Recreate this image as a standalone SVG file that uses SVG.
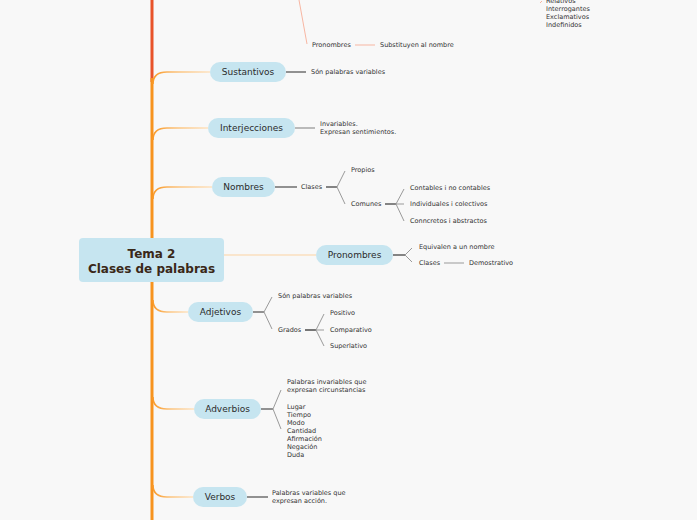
<svg xmlns="http://www.w3.org/2000/svg" width="697" height="520" viewBox="0 0 697 520">
<defs>
<linearGradient id="br" x1="0" y1="0" x2="1" y2="0">
<stop offset="0" stop-color="#f99a2a"/>
<stop offset="0.45" stop-color="#fcc47e"/>
<stop offset="1" stop-color="#fde3c2"/>
</linearGradient>
<style>
.node rect{fill:#c6e5f0;}
.nt{font-family:"DejaVu Sans",Verdana,sans-serif;font-size:9px;fill:#2b2b2b;text-anchor:middle;}
.ct{font-family:"DejaVu Sans",Verdana,sans-serif;font-size:12px;font-weight:bold;fill:#3a2818;text-anchor:middle;}
.st{font-family:"DejaVu Sans",Verdana,sans-serif;font-size:6.5px;fill:#333;}
.br{fill:none;stroke:url(#br);stroke-width:1.6;}
.g{fill:none;stroke:#9a9a9a;stroke-width:1;}
.gs{fill:none;stroke:#777;stroke-width:1.6;}
.d{fill:none;stroke:#444;stroke-width:1.3;}
.sal{fill:none;stroke:#f7b6a2;stroke-width:1;}
</style>
</defs>
<rect width="697" height="520" fill="#f8f8f8"/>
<g id="connectors">
<line x1="152" y1="0" x2="152" y2="82" stroke="#e8532a" stroke-width="3"/>
<line x1="152" y1="78" x2="152" y2="520" stroke="#f7931e" stroke-width="3"/>
<path class="br" d="M153,84 Q153,72 167,72 L210,72"/>
<path class="br" d="M153,140 Q153,128 167,128 L208,128"/>
<path class="br" d="M153,199 Q153,187 167,187 L212,187"/>
<path class="br" d="M153,300 Q153,312 167,312 L188,312"/>
<path class="br" d="M153,397 Q153,409 167,409 L194,409"/>
<path class="br" d="M153,485 Q153,497 167,497 L193,497"/>
<line x1="224" y1="255" x2="316" y2="255" stroke="#fcd3a2" stroke-width="1"/>
<!-- top -->
<line class="sal" x1="299" y1="0" x2="307" y2="44"/>
<line class="sal" x1="355" y1="45" x2="375" y2="45"/>
<line class="sal" x1="540" y1="3" x2="542" y2="1"/>
<!-- Sustantivos -->
<line class="gs" x1="286" y1="72" x2="306" y2="72" stroke="#aaa"/>
<!-- Interjecciones -->
<line class="gs" x1="295" y1="128" x2="315" y2="128" style="stroke:#aaa"/>
<!-- Nombres -->
<line class="gs" x1="275" y1="187" x2="297" y2="187"/>
<line class="d" x1="326" y1="187" x2="337" y2="187"/>
<path class="g" d="M337,187 L345,171 M337,187 L345,204"/>
<line class="d" x1="385" y1="204" x2="396" y2="204"/>
<path class="g" d="M396,204 L404,189 M396,204 L404,204 M396,204 L404,221"/>
<!-- Pronombres -->
<line class="d" x1="393" y1="255" x2="405" y2="255"/>
<path class="g" d="M405,255 L412,248 M405,255 L412,262"/>
<line class="g" x1="444" y1="263" x2="464" y2="263"/>
<!-- Adjetivos -->
<line class="gs" x1="253" y1="312" x2="264" y2="312"/>
<path class="g" d="M264,312 L272,297 M264,312 L272,329"/>
<line class="gs" x1="305" y1="330" x2="316" y2="330" style="stroke:#555"/>
<path class="g" d="M316,330 L324,314 M316,330 L324,330 M316,330 L324,346"/>
<!-- Adverbios -->
<line class="gs" x1="261" y1="409" x2="273" y2="409"/>
<path class="g" d="M273,409 L281,390 M273,409 L281,429"/>
<!-- Verbos -->
<line class="gs" x1="247" y1="497" x2="268" y2="497"/>
</g>
<g id="top-branch">
<text class="st" x="312" y="47.3">Pronombres</text>
<text class="st" x="380" y="47.3">Substituyen al nombre</text>
<text class="st" x="546" y="3.3">Relativos</text>
<text class="st" x="546" y="11.3">Interrogantes</text>
<text class="st" x="546" y="19.3">Exclamativos</text>
<text class="st" x="546" y="27.3">Indefinidos</text>
</g>
<g id="central" class="node">
<rect x="79" y="238" width="145" height="44" rx="4"/>
<text class="ct" x="151.5" y="258">Tema 2</text>
<text class="ct" x="151.5" y="273">Clases de palabras</text>
</g>
<g id="sustantivos" class="node">
<rect x="210" y="62" width="76" height="20" rx="10"/>
<text class="nt" x="248" y="75.2">Sustantivos</text>
<text class="st" x="311" y="74.3">Són palabras variables</text>
</g>
<g id="interjecciones" class="node">
<rect x="208" y="118" width="87" height="20" rx="10"/>
<text class="nt" x="251.5" y="131.2">Interjecciones</text>
<text class="st" x="320" y="126.3">Invariables.</text>
<text class="st" x="320" y="134.3">Expresan sentimientos.</text>
</g>
<g id="nombres" class="node">
<rect x="212" y="177" width="63" height="20" rx="10"/>
<text class="nt" x="243.5" y="190.2">Nombres</text>
<text class="st" x="301" y="189.3">Clases</text>
<text class="st" x="351" y="172.3">Propios</text>
<text class="st" x="351" y="206.3">Comunes</text>
<text class="st" x="410" y="190.3">Contables i no contables</text>
<text class="st" x="410" y="206.3">Individuales i colectivos</text>
<text class="st" x="410" y="223.3">Conncretos i abstractos</text>
</g>
<g id="pronombres" class="node">
<rect x="316" y="245" width="77" height="20" rx="10"/>
<text class="nt" x="354.5" y="258.2">Pronombres</text>
<text class="st" x="419" y="249.3">Equivalen a un nombre</text>
<text class="st" x="419" y="265.3">Clases</text>
<text class="st" x="469" y="265.3">Demostrativo</text>
</g>
<g id="adjetivos" class="node">
<rect x="188" y="302" width="65" height="20" rx="10"/>
<text class="nt" x="220.5" y="315.2">Adjetivos</text>
<text class="st" x="278" y="298.3">Són palabras variables</text>
<text class="st" x="278" y="332.3">Grados</text>
<text class="st" x="330" y="315.3">Positivo</text>
<text class="st" x="330" y="332.3">Comparativo</text>
<text class="st" x="330" y="348.3">Superlativo</text>
</g>
<g id="adverbios" class="node">
<rect x="194" y="399" width="67" height="20" rx="10"/>
<text class="nt" x="227.5" y="412.2">Adverbios</text>
<text class="st" x="287" y="384.3">Palabras invariables que</text>
<text class="st" x="287" y="392.3">expresan circunstancias</text>
<text class="st" x="287" y="409.3">Lugar</text>
<text class="st" x="287" y="417.3">Tiempo</text>
<text class="st" x="287" y="425.3">Modo</text>
<text class="st" x="287" y="433.3">Cantidad</text>
<text class="st" x="287" y="441.3">Afirmación</text>
<text class="st" x="287" y="449.3">Negación</text>
<text class="st" x="287" y="457.3">Duda</text>
</g>
<g id="verbos" class="node">
<rect x="193" y="487" width="54" height="20" rx="10"/>
<text class="nt" x="220" y="500.2">Verbos</text>
<text class="st" x="272" y="495.3">Palabras variables que</text>
<text class="st" x="272" y="503.3">expresan acción.</text>
</g>
</svg>
